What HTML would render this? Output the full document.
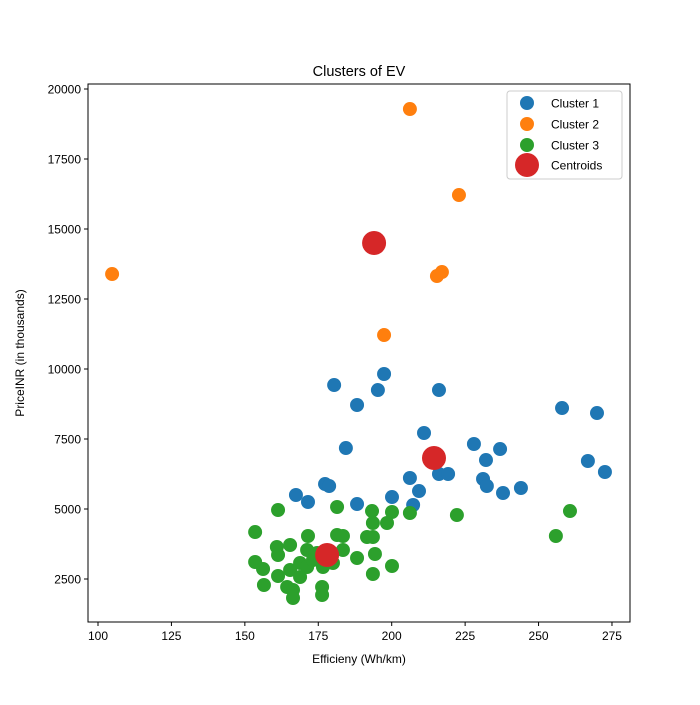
<!DOCTYPE html>
<html><head><meta charset="utf-8"><style>
body{margin:0;background:#fff;}
svg text{font-family:"Liberation Sans","DejaVu Sans",sans-serif;fill:#000;}
</style></head><body>
<svg id="chart" width="700" height="700" xmlns="http://www.w3.org/2000/svg">
<rect width="700" height="700" fill="#fff"/>
<text x="359" y="76" font-size="14.5" text-anchor="middle">Clusters of EV</text>
<g id="plot"></g>
<rect x="88" y="84" width="542" height="538" fill="none" stroke="#000" stroke-width="1"/>
<text x="359" y="663" font-size="12" text-anchor="middle">Efficieny (Wh/km)</text>
<text transform="translate(24,353) rotate(-90)" font-size="12" text-anchor="middle">PriceINR (in thousands)</text>
<g>
<rect x="507" y="91" width="115" height="88" rx="3" fill="#fff" fill-opacity="0.8" stroke="#ccc"/>
<circle cx="527" cy="103" r="7" fill="#1f77b4"/>
<text x="551" y="107.5" font-size="12">Cluster 1</text>
<circle cx="527" cy="124" r="7" fill="#ff7f0e"/>
<text x="551" y="128.5" font-size="12">Cluster 2</text>
<circle cx="527" cy="145" r="7" fill="#2ca02c"/>
<text x="551" y="149.5" font-size="12">Cluster 3</text>
<circle cx="527" cy="165" r="12" fill="#d62728"/>
<text x="551" y="169.5" font-size="12">Centroids</text>
</g>
</svg>
<script>
const xTicks=[100,125,150,175,200,225,250,275];
const yTicks=[2500,5000,7500,10000,12500,15000,17500,20000];
const c1x=[180.4,197.4,195.3,188.2,216.1,184.4,211.0,228.0,236.9,232.1,258.0,269.9,266.8,272.6,216.1,219.2,206.2,209.3,231.1,232.4,237.9,244.0,177.3,178.7,167.4,171.5,188.2,200.1,207.3];
const c1y=[9428,9821,9249,8714,9249,7178,7714,7321,7142,6749,8606,8428,6714,6321,6250,6250,6107,5642,6071,5821,5571,5750,5892,5821,5500,5250,5178,5428,5143];
const c2x=[104.8,206.2,222.9,215.4,217.1,197.4];
const c2y=[13392,19284,16213,13320,13463,11213];
const c3x=[161.3,181.4,193.3,200.1,206.2,222.2,255.9,260.7,153.5,193.6,198.4,191.6,193.6,171.5,181.4,183.4,160.9,165.4,161.3,171.2,174.6,183.4,153.5,156.2,188.2,194.3,200.1,193.6,161.3,165.4,168.8,171.2,156.5,164.4,166.4,166.4,176.3,176.3,180.0,168.8,176.6,173.2];
const c3y=[4964,5071,4928,4893,4857,4785,4036,4928,4178,4500,4500,4000,4000,4036,4071,4036,3643,3714,3357,3536,3429,3536,3107,2857,3250,3393,2964,2679,2607,2821,3071,2929,2286,2214,2107,1821,2214,1929,3071,2571,2929,3179];
const cenX=[194.0,214.4,178.0];
const cenY=[14500,6821,3357];

const NS="http://www.w3.org/2000/svg";
function sx(v){return 98+(v-100)*2.937;}
function sy(v){return 579-(v-2500)*0.028;}
const svg=document.getElementById('chart');
const plot=document.getElementById('plot');
function mk(tag,attrs,parent){const e=document.createElementNS(NS,tag);for(const k in attrs)e.setAttribute(k,attrs[k]);(parent||svg).appendChild(e);return e;}
xTicks.forEach(t=>{
  const l=mk('line',{x1:sx(t),x2:sx(t),y1:622,y2:626,stroke:'#000'});
  
  
  const tx=mk('text',{x:sx(t),y:640,'font-size':12,'text-anchor':'middle'});
  tx.textContent=t;
  
  
});
yTicks.forEach(t=>{
  const l=mk('line',{x1:84,x2:88,y1:sy(t),y2:sy(t),stroke:'#000'});
  
  
  const tx=mk('text',{x:81,y:sy(t)+4.5,'font-size':12,'text-anchor':'end'});
  tx.textContent=t;
  
  
});
function series(xs,ys,color,r,name){
  xs.forEach((v,i)=>{
    const c=mk('circle',{cx:sx(v),cy:sy(ys[i]),r:r,fill:color},plot);
    
    
  });
}
series(c1x,c1y,'#1f77b4',7,'cluster-1-point');
series(c2x,c2y,'#ff7f0e',7,'cluster-2-point');
series(c3x,c3y,'#2ca02c',7,'cluster-3-point');
series(cenX,cenY,'#d62728',12,'centroid-point');
</script>
</body></html>
